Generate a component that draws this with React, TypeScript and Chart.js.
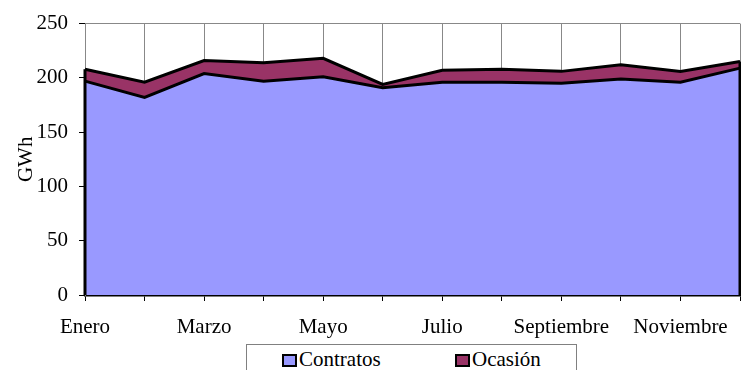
import React, { useEffect, useRef } from "react";
import { Chart, registerables } from "chart.js";

Chart.register(...registerables);

const months = [
  "Enero", "Febrero", "Marzo", "Abril", "Mayo", "Junio",
  "Julio", "Agosto", "Septiembre", "Octubre", "Noviembre", "Diciembre",
];
const contratos = [197, 182, 204, 197, 201, 191, 196, 196, 195, 199, 196, 209];
const ocasion = [11, 14, 12, 17, 17, 3, 11, 12, 11, 13, 10, 6];
const yTicks = [0, 50, 100, 150, 200, 250];
const seriesNames = ["Contratos", "Ocasión"];
const seriesColors = ["#9999FF", "#993366"];

const FONT = "'Liberation Serif', 'Times New Roman', serif";

const edgePlugin = {
  id: "seriesEdges",
  afterDatasetsDraw(chart: any) {
    const { ctx, scales } = chart;
    const x = scales.x;
    const y = scales.y;
    const n = months.length;
    const tops = [0, n - 1].map((i) => contratos[i] + ocasion[i]);
    ctx.save();
    ctx.strokeStyle = "#000";
    ctx.lineWidth = 3;
    [0, n - 1].forEach((i, k) => {
      const px = x.getPixelForValue(i);
      ctx.beginPath();
      ctx.moveTo(px, y.getPixelForValue(0));
      ctx.lineTo(px, y.getPixelForValue(tops[k]));
      ctx.stroke();
    });
    ctx.restore();
  },
};

export default function App() {
  const ref = useRef<HTMLCanvasElement | null>(null);

  useEffect(() => {
    if (!ref.current) return;
    const chart = new Chart(ref.current, {
      type: "line",
      data: {
        labels: months,
        datasets: [
          {
            label: seriesNames[0],
            data: contratos,
            backgroundColor: seriesColors[0],
            borderColor: "#000",
            borderWidth: 3,
            fill: "origin",
            pointRadius: 0,
            tension: 0,
          },
          {
            label: seriesNames[1],
            data: ocasion,
            backgroundColor: seriesColors[1],
            borderColor: "#000",
            borderWidth: 3,
            fill: "-1",
            pointRadius: 0,
            tension: 0,
          },
        ],
      },
      options: {
        animation: false,
        responsive: false,
        maintainAspectRatio: false,
        layout: { padding: { top: 21, right: 1, left: 0, bottom: 0 } },
        plugins: {
          legend: { display: false },
          tooltip: { enabled: false },
        },
        scales: {
          x: {
            type: "category",
            offset: false,
            grid: {
              color: "#888888",
              tickColor: "#000",
              tickLength: 6,
              lineWidth: 1,
            },
            border: { color: "#000", width: 2.5 },
            ticks: {
              autoSkip: false,
              maxRotation: 0,
              minRotation: 0,
              padding: 14,
              color: "#000",
              font: { family: FONT, size: 21 },
              callback: (_v: any, idx: number) => (idx % 2 === 0 ? months[idx] : ""),
            },
            afterFit: (s: any) => {
              s.height = 75;
              s.paddingLeft = 0;
              s.paddingRight = 0;
            },
          },
          y: {
            stacked: true,
            min: 0,
            max: 250,
            afterBuildTicks: (s: any) => {
              s.ticks = yTicks.map((v) => ({ value: v }));
            },
            grid: {
              color: (c: any) => (c.tick && c.tick.value === 250 ? "#888888" : "rgba(0,0,0,0)"),
              tickColor: "#000",
              tickLength: 6,
            },
            border: { color: "#888888", width: 1 },
            ticks: {
              padding: 11,
              color: "#000",
              font: { family: FONT, size: 21 },
            },
            title: {
              display: true,
              text: "GWh",
              color: "#000",
              font: { family: FONT, size: 21 },
              padding: { top: 14, bottom: 0 },
            },
            afterFit: (s: any) => {
              s.width = 85;
            },
          },
        },
      },
      plugins: [edgePlugin],
    });
    return () => chart.destroy();
  }, []);

  const textStyle: React.CSSProperties = {
    position: "absolute",
    fontFamily: FONT,
    fontSize: "21px",
    lineHeight: "21px",
    color: "#000",
    whiteSpace: "nowrap",
  };
  const swatch = (color: string, left: number): React.CSSProperties => ({
    position: "absolute",
    left,
    top: 354,
    width: 15,
    height: 13,
    boxSizing: "border-box",
    border: "2px solid #000",
    background: color,
  });

  return (
    <div style={{ position: "absolute", left: 0, top: 0, width: 741, height: 370, overflow: "hidden", background: "#fff" }}>
      <canvas ref={ref} width={741} height={370} style={{ position: "absolute", left: 0, top: 0, width: 741, height: 370 }} />
      <div
        style={{
          position: "absolute",
          left: 246,
          top: 344,
          width: 331,
          height: 40,
          boxSizing: "border-box",
          border: "1px solid #808080",
          background: "#fff",
        }}
      />
      <div style={swatch(seriesColors[0], 282)} />
      <span style={{ ...textStyle, left: 299, top: 349 }}>{seriesNames[0]}</span>
      <div style={swatch(seriesColors[1], 455)} />
      <span style={{ ...textStyle, left: 472, top: 349 }}>{seriesNames[1]}</span>
    </div>
  );
}
